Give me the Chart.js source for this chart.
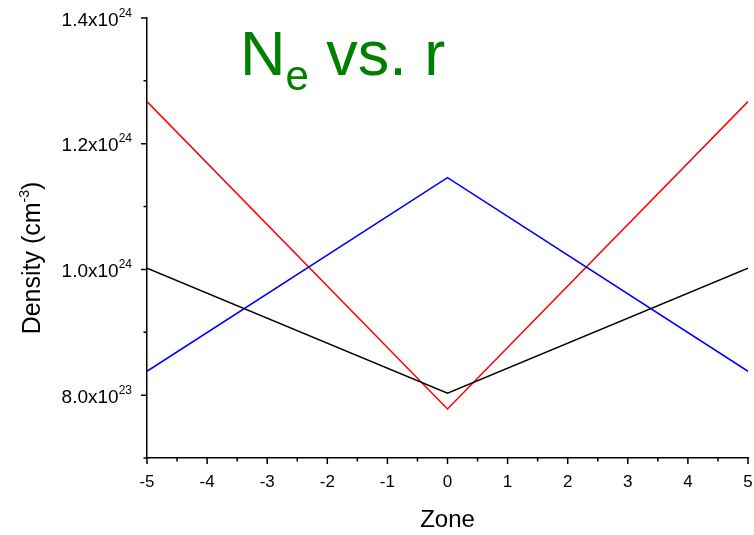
<!DOCTYPE html>
<html>
<head>
<meta charset="utf-8">
<script src="https://cdn.jsdelivr.net/npm/chart.js@4/dist/chart.umd.min.js"></script>
<style>
  html, body { margin: 0; padding: 0; background: #fff; }
  #wrap { width: 754px; height: 535px; }
</style>
</head>
<body>
<div id="wrap"><canvas id="chart" width="754" height="535"></canvas></div>
<script>
// zone positions and density per zone (cm^-3)
const zones        = [-5, 0, 5];
const densityRed   = [1.267e24, 0.778e24, 1.267e24];
const densityBlue  = [0.838e24, 1.146e24, 0.838e24];
const densityBlack = [1.002e24, 0.803e24, 1.002e24];

// axis ticks and their labels
const xMajor = [-5, -4, -3, -2, -1, 0, 1, 2, 3, 4, 5];
const xMinor = [-4.5, -3.5, -2.5, -1.5, -0.5, 0.5, 1.5, 2.5, 3.5, 4.5];
const yMajor = [0.8e24, 1.0e24, 1.2e24, 1.4e24];
const yMinor = [0.7e24, 0.9e24, 1.1e24, 1.3e24];
const yMantissa = ["8.0x10", "1.0x10", "1.2x10", "1.4x10"];
const yExponent = ["23", "24", "24", "24"];

const FONT = "'Liberation Sans', Arial, sans-serif";

function pts(ys) {
  return zones.map((x, i) => ({ x: x, y: ys[i] }));
}

const axisDecor = {
  id: "axisDecor",
  afterDraw(chart) {
    const ctx = chart.ctx;
    const xs = chart.scales.x, ys = chart.scales.y;
    const a = chart.chartArea;
    ctx.save();
    ctx.strokeStyle = "#000";
    ctx.lineWidth = 1.5;
    ctx.beginPath();
    xMajor.forEach(v => { const p = xs.getPixelForValue(v); ctx.moveTo(p, a.bottom); ctx.lineTo(p, a.bottom + 6); });
    xMinor.forEach(v => { const p = xs.getPixelForValue(v); ctx.moveTo(p, a.bottom); ctx.lineTo(p, a.bottom + 3.5); });
    yMajor.forEach(v => { const p = ys.getPixelForValue(v); ctx.moveTo(a.left, p); ctx.lineTo(a.left - 6, p); });
    yMinor.forEach(v => { const p = ys.getPixelForValue(v); ctx.moveTo(a.left, p); ctx.lineTo(a.left - 3.5, p); });
    ctx.stroke();

    ctx.fillStyle = "#000";
    ctx.font = "17px " + FONT;
    ctx.textAlign = "center";
    ctx.textBaseline = "middle";
    xMajor.forEach(v => ctx.fillText(String(v), xs.getPixelForValue(v), a.bottom + 24));

    yMajor.forEach((v, i) => {
      const p = ys.getPixelForValue(v);
      ctx.font = "12px " + FONT;
      const ew = ctx.measureText(yExponent[i]).width;
      const right = a.left - 15;
      ctx.textAlign = "left";
      ctx.textBaseline = "alphabetic";
      ctx.fillText(yExponent[i], right - ew, p - 1.5);
      ctx.font = "19px " + FONT;
      ctx.textAlign = "right";
      ctx.fillText(yMantissa[i], right - ew, p + 7.5);
    });

    // axis titles
    ctx.font = "24px " + FONT;
    ctx.textAlign = "center";
    ctx.textBaseline = "middle";
    ctx.fillText("Zone", xs.getPixelForValue(0), 520);

    ctx.save();
    ctx.translate(33, 258);
    ctx.rotate(-Math.PI / 2);
    ctx.textAlign = "left";
    const t1 = "Density (cm", t2 = "-3", t3 = ")";
    ctx.font = "25px " + FONT;
    const w1 = ctx.measureText(t1).width, w3 = ctx.measureText(t3).width;
    ctx.font = "14px " + FONT;
    const w2 = ctx.measureText(t2).width;
    let x0 = -(w1 + w2 + w3) / 2;
    ctx.font = "25px " + FONT;
    ctx.fillText(t1, x0, 0);
    ctx.font = "14px " + FONT;
    ctx.fillText(t2, x0 + w1, -8);
    ctx.font = "25px " + FONT;
    ctx.fillText(t3, x0 + w1 + w2, 0);
    ctx.restore();

    // plot title
    ctx.fillStyle = "#008000";
    ctx.textAlign = "left";
    ctx.textBaseline = "alphabetic";
    const tx = 240;
    ctx.font = "63px " + FONT;
    ctx.fillText("N", tx, 75);
    const nw = ctx.measureText("N").width;
    ctx.font = "42px " + FONT;
    ctx.fillText("e", tx + nw, 90);
    const ew2 = ctx.measureText("e").width;
    ctx.font = "63px " + FONT;
    ctx.fillText(" vs. r", tx + nw + ew2, 75);
    ctx.restore();
  }
};

const makeSet = (ys, color) => ({
  data: pts(ys),
  borderColor: color,
  borderWidth: 1.5,
  pointRadius: 0,
  fill: false,
  tension: 0
});

new Chart(document.getElementById("chart"), {
  type: "line",
  data: {
    datasets: [
      makeSet(densityBlack, "#000000"),
      makeSet(densityBlue, "#0000ff"),
      makeSet(densityRed, "#ff0000")
    ]
  },
  options: {
    responsive: false,
    animation: false,
    layout: { padding: { top: 18, right: 6, left: 0, bottom: 0 } },
    plugins: { legend: { display: false }, tooltip: { enabled: false } },
    scales: {
      x: {
        type: "linear", min: -5, max: 5,
        grid: { display: false },
        ticks: { display: false },
        border: { display: true, color: "#000", width: 1.5 },
        afterFit(s) { s.height = 77; }
      },
      y: {
        type: "linear", min: 0.7e24, max: 1.4e24,
        grid: { display: false },
        ticks: { display: false },
        border: { display: true, color: "#000", width: 1.5 },
        afterFit(s) { s.width = 147; }
      }
    }
  },
  plugins: [axisDecor]
});
</script>
</body>
</html>
